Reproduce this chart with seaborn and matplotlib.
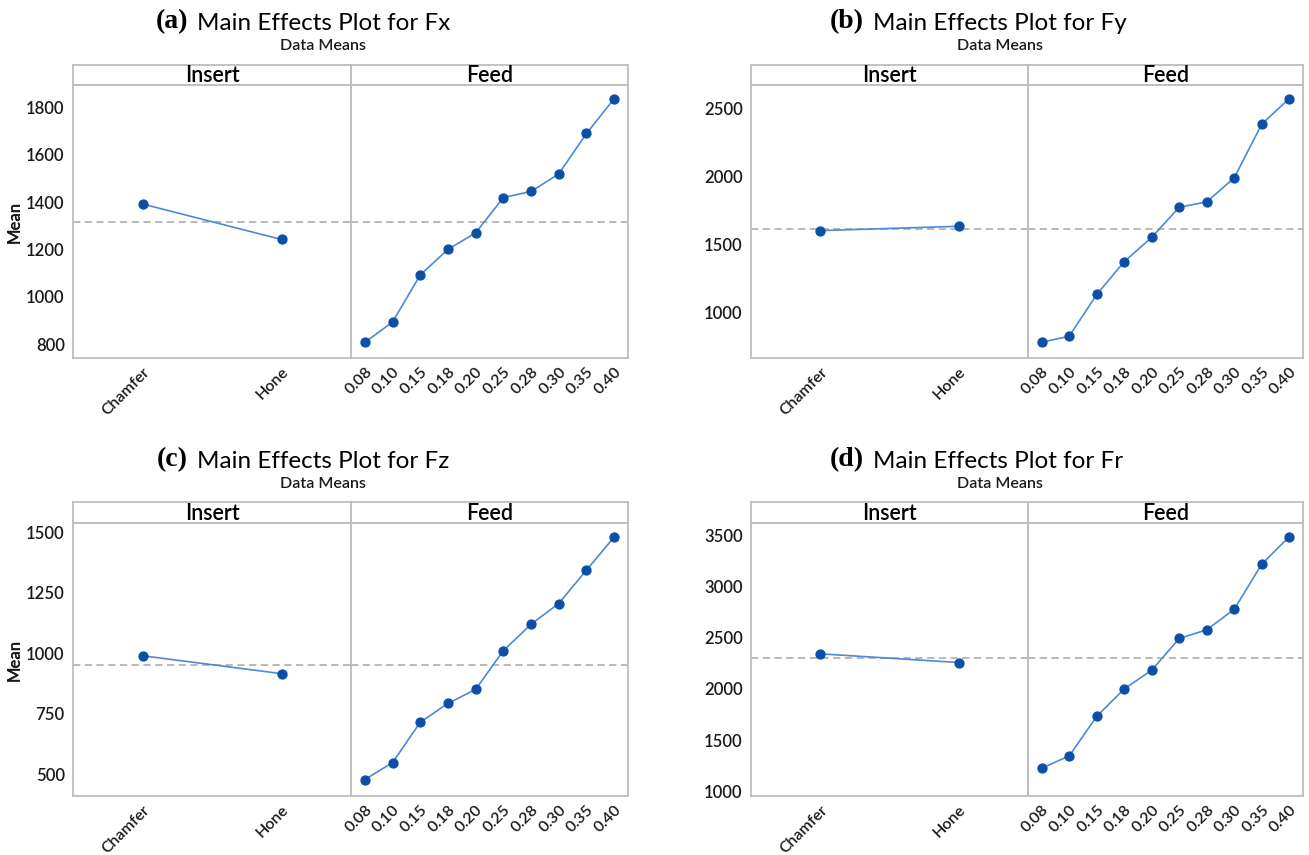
import matplotlib
matplotlib.use("Agg")
import matplotlib.pyplot as plt
import seaborn as sns
import pandas as pd

# ---------------- data ----------------
insert_levels = ["Chamfer", "Hone"]
feed_levels = ["0.08", "0.10", "0.15", "0.18", "0.20", "0.25", "0.28", "0.30", "0.35", "0.40"]

fx_insert = [1392, 1242]
fx_feed = [807, 893, 1092, 1200, 1270, 1419, 1445, 1519, 1690, 1837]
fx_grand = 1316

fy_insert = [1604, 1636]
fy_feed = [784, 828, 1135, 1376, 1555, 1776, 1815, 1992, 2387, 2574]
fy_grand = 1619

fz_insert = [990, 916]
fz_feed = [478, 548, 715, 793, 851, 1011, 1120, 1206, 1344, 1481]
fz_grand = 953

fr_insert = [2343, 2258]
fr_feed = [1225, 1346, 1732, 2000, 2183, 2493, 2578, 2778, 3219, 3487]
fr_grand = 2301

panel_letters = ["(a)", "(b)", "(c)", "(d)"]
responses = ["Fx", "Fy", "Fz", "Fr"]
yticks = [
    [800, 1000, 1200, 1400, 1600, 1800],
    [1000, 1500, 2000, 2500],
    [500, 750, 1000, 1250, 1500],
    [1000, 1500, 2000, 2500, 3000, 3500],
]
ylims = [(741, 1895), (668, 2674), (410, 1539), (954, 3621)]

# ---------------- style ----------------
sns.set_theme(style="white")
SANS = ["Lato", "DejaVu Sans"]
plt.rcParams["font.family"] = SANS

W, H = 1309, 855
fig = plt.figure(figsize=(W / 100, H / 100), dpi=100)
fig.patch.set_facecolor("white")

LINE_C = "#4a8ad6"
MARK_C = "#0b4fa6"
REF_C = "#b3b3b3"
FRAME_C = "#bdbdbd"
TXT_C = "#1a1a1a"


def fr_rect(l, t, r, b):
    return [l / W, 1 - b / H, (r - l) / W, (b - t) / H]


cols = [(73, 351, 628), (751, 1028, 1303)]
rows = [(65, 85, 358), (502, 523, 796)]
title_y = [23, 461]
sub_y = [45, 483]
title_left = [197, 873]
sub_cx = [323, 1000]

panels = [
    (fx_insert, fx_feed, fx_grand),
    (fy_insert, fy_feed, fy_grand),
    (fz_insert, fz_feed, fz_grand),
    (fr_insert, fr_feed, fr_grand),
]

for i, (ins_vals, feed_vals, grand) in enumerate(panels):
    r, c = divmod(i, 2)
    L, D, R = cols[c]
    T, S, B = rows[r]

    # titles
    fig.text(title_left[c] / W, 1 - title_y[r] / H, f"Main Effects Plot for {responses[i]}",
             ha="left", va="center", fontsize=17.5, color="black")
    fig.text((title_left[c] - 9) / W, 1 - (title_y[r] - 1) / H, panel_letters[i],
             ha="right", va="center", fontsize=20, fontweight="bold",
             family=["Liberation Serif", "DejaVu Serif"], color="black")
    fig.text(sub_cx[c] / W, 1 - (sub_y[r] + 1) / H, "Data Means", ha="center", va="center",
             fontsize=11.5, fontweight="semibold", color=TXT_C)
    fig.text(15 / W, 1 - ((S + B) / 2) / H, "Mean", rotation=90, ha="center", va="center",
             fontsize=12, fontweight="semibold", color=TXT_C)

    # strips
    for (sl, sr, lab) in [(L, D, "Insert"), (D, R, "Feed")]:
        sax = fig.add_axes(fr_rect(sl, T, sr, S))
        sax.set_xticks([])
        sax.set_yticks([])
        for sp in sax.spines.values():
            sp.set_color(FRAME_C)
            sp.set_linewidth(1.3)
        sax.text(0.5, 0.45, lab, transform=sax.transAxes, ha="center", va="center",
                 fontsize=15.5, fontweight="semibold", color="black")

    ax1 = fig.add_axes(fr_rect(L, S, D, B))
    ax2 = fig.add_axes(fr_rect(D, S, R, B), sharey=ax1)

    for ax, levels, vals in [(ax1, insert_levels, ins_vals), (ax2, feed_levels, feed_vals)]:
        df = pd.DataFrame({"level": levels, "mean": vals})
        ax.axhline(grand, color=REF_C, lw=1.3, ls=(0, (4, 2.5)), zorder=1)
        sns.pointplot(data=df, x="level", y="mean", order=levels, ax=ax,
                      color=LINE_C, markers="o", markersize=6.5, linewidth=1.2,
                      errorbar=None)
        for ln in ax.lines[1:]:
            ln.set_markerfacecolor(MARK_C)
            ln.set_markeredgecolor(MARK_C)
        ax.set_xlim(-0.5, len(levels) - 0.5)
        ax.set_xlabel("")
        ax.set_ylabel("")
        for sp in ax.spines.values():
            sp.set_color(FRAME_C)
            sp.set_linewidth(1.3)
        ax.tick_params(axis="y", which="both", length=4, width=1, color=FRAME_C,
                       labelsize=12, labelcolor=TXT_C, pad=2)
        ax.tick_params(axis="x", which="both", length=4, width=1, color=FRAME_C,
                       labelsize=11.5, labelcolor=TXT_C, pad=1)
        for lbl in ax.get_xticklabels() + ax.get_yticklabels():
            lbl.set_fontweight("semibold")
        for lbl in ax.get_xticklabels():
            lbl.set_rotation(45)
            lbl.set_ha("right")
            lbl.set_va("top")
            lbl.set_rotation_mode("anchor")

    ax1.set_ylim(*ylims[i])
    ax1.set_yticks(yticks[i])
    ax1.set_yticklabels([str(v) for v in yticks[i]], fontweight="semibold")
    ax2.tick_params(axis="y", left=False, labelleft=False)

fig.savefig("out.png", dpi=100, facecolor="white")
